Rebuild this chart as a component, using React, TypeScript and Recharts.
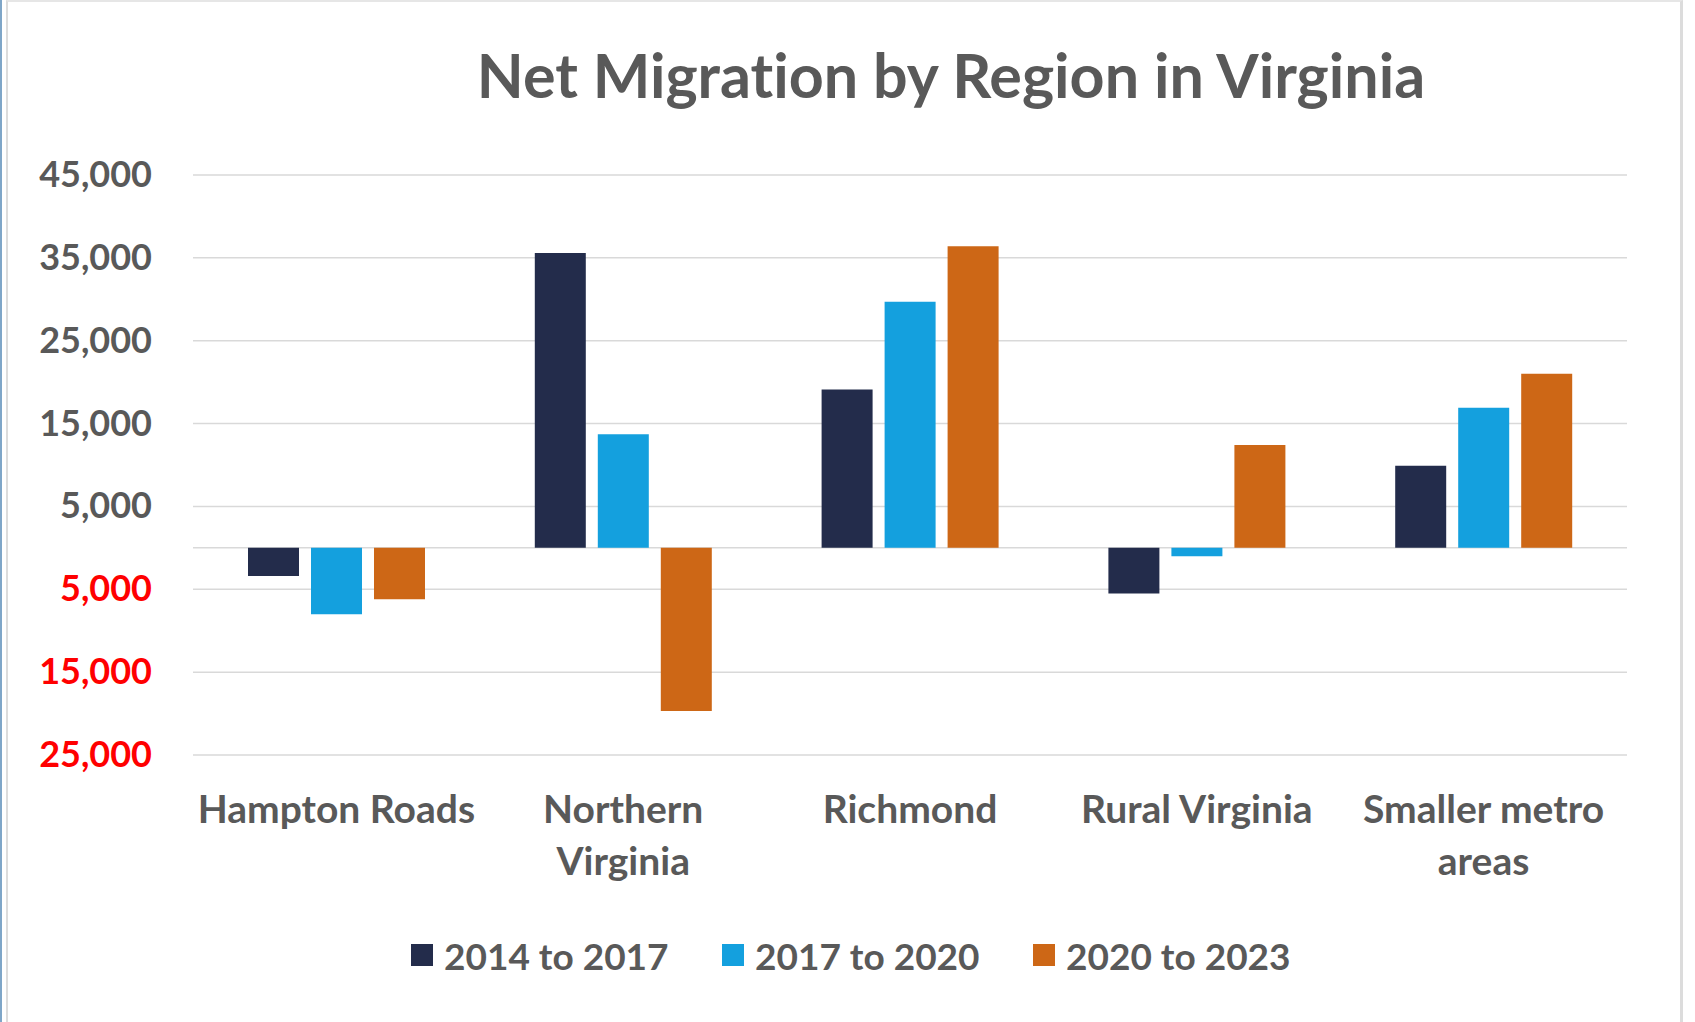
import React from "react";
import { BarChart, Bar, XAxis, YAxis, CartesianGrid } from "recharts";

const categories = ["Hampton Roads", "Northern Virginia", "Richmond", "Rural Virginia", "Smaller metro areas"];
const tickLines = [["Hampton Roads"], ["Northern", "Virginia"], ["Richmond"], ["Rural Virginia"], ["Smaller metro", "areas"]];
const seriesNames = ["2014 to 2017", "2017 to 2020", "2020 to 2023"];
const values2014to2017 = [-3400, 35600, 19100, -5500, 9900];
const values2017to2020 = [-8000, 13700, 29700, -1000, 16900];
const values2020to2023 = [-6200, -19700, 36400, 12400, 21000];
const yTicks = [-25000, -15000, -5000, 0, 5000, 15000, 25000, 35000, 45000];
const colors = ["#232C4B", "#14A0DE", "#CD6716"];

const data = categories.map((c, i) => ({
  name: c,
  s1: values2014to2017[i],
  s2: values2017to2020[i],
  s3: values2020to2023[i],
}));

const FONT = "Lato, 'Open Sans', sans-serif";

const YTick = (props: any) => {
  const { x, y, payload } = props;
  const v = payload.value as number;
  if (v === 0) return null;
  return (
    <text x={x} y={y} dy={12} textAnchor="end" fontFamily={FONT} fontWeight={700} fontSize={36} fill={v < 0 ? "#FF0000" : "#595959"}>
      {Math.abs(v).toLocaleString("en-US")}
    </text>
  );
};

const XTick = (props: any) => {
  const { x, y, payload } = props;
  const lines = tickLines[payload.index] || [String(payload.value)];
  return (
    <g>
      {lines.map((l: string, i: number) => (
        <text key={i} x={x} y={y + i * 52} dy={24} textAnchor="middle" fontFamily={FONT} fontWeight={700} fontSize={39} fill="#595959">
          {l}
        </text>
      ))}
    </g>
  );
};

export default function App() {
  return (
    <div style={{ position: "absolute", left: 0, top: 0, width: 1695, height: 1022, background: "#fff", overflow: "hidden" }}>
      <div style={{ position: "absolute", left: 0, top: 0, width: 2, height: 1022, background: "#7FA6C8" }} />
      <div style={{ position: "absolute", left: 6, top: 0, width: 1672, height: 1030, borderLeft: "2px solid #DCDCDC", borderTop: "2px solid #E6E6E6", borderRight: "3px solid #DCDCDC" }} />
      <div style={{ position: "absolute", left: 0, width: 1902, top: 40, textAlign: "center", fontFamily: FONT, fontWeight: 700, fontSize: 61, color: "#595959", lineHeight: "70px", fontVariantLigatures: "none" }}>
        Net Migration by Region in Virginia
      </div>
      <div style={{ position: "absolute", left: 0, top: 0 }}>
        <BarChart width={1695} height={1022} data={data} margin={{ top: 175, right: 68, bottom: 187, left: 0 }} barSize={51} barGap={12}>
          <CartesianGrid horizontal vertical={false} stroke="#D9D9D9" strokeWidth={1.5} />
          <XAxis dataKey="name" axisLine={false} tickLine={false} tickSize={0} tickMargin={44} tick={<XTick />} interval={0} height={80} />
          <YAxis type="number" domain={[-25000, 45000]} ticks={yTicks} axisLine={false} tickLine={false} tickSize={0} tickMargin={41} width={193} tick={<YTick />} interval={0} />
          <Bar dataKey="s1" name={seriesNames[0]} fill={colors[0]} isAnimationActive={false} />
          <Bar dataKey="s2" name={seriesNames[1]} fill={colors[1]} isAnimationActive={false} />
          <Bar dataKey="s3" name={seriesNames[2]} fill={colors[2]} isAnimationActive={false} />
        </BarChart>
      </div>
      {seriesNames.map((n, i) => (
        <div key={n} style={{ position: "absolute", left: 411 + i * 311, top: 932, display: "flex", alignItems: "center", height: 46 }}>
          <div style={{ width: 22, height: 22, background: colors[i], marginRight: 11 }} />
          <span style={{ fontFamily: FONT, fontWeight: 700, fontSize: 37, color: "#595959", whiteSpace: "nowrap" }}>{n}</span>
        </div>
      ))}
    </div>
  );
}
